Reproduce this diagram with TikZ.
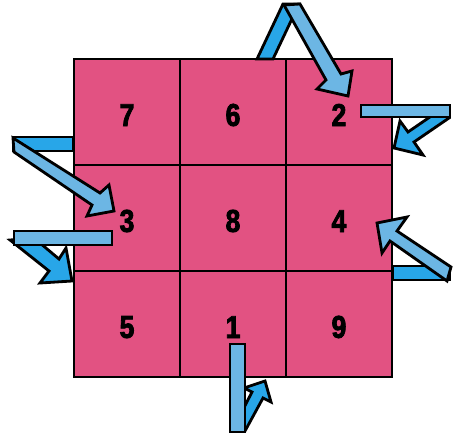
\documentclass[tikz,border=0pt]{standalone}
\usepackage{fontspec}
\newfontfamily\numfont[FakeStretch=0.84, FakeBold=2.5]{Liberation Sans Bold}
\usetikzlibrary{positioning}
\definecolor{squarepink}{RGB}{226,82,130}
\definecolor{ribbonlight}{RGB}{108,182,228}
\definecolor{ribbondark}{RGB}{40,166,232}

\begin{document}
\begin{tikzpicture}[
  x=0.02cm, y=-0.02cm,
  node distance=0pt,
  cell/.style={rectangle, draw=black, line width=1.2pt, fill=squarepink,
               minimum size=2.12cm, inner sep=0pt, outer sep=0pt,
               text height=16pt,
               font=\numfont\fontsize{18}{18}\selectfont},
  front/.style={draw=black, fill=ribbonlight, line width=1.6pt},
  back/.style={draw=black, fill=ribbondark, line width=1.6pt},
]
  \useasboundingbox (0,0) rectangle (455,435);

  \node[cell] (c7) at (127,112) {7};
  \node[cell, right=of c7] (c6) {6};
  \node[cell, right=of c6] (c2) {2};
  \node[cell, below=of c7] (c3) {3};
  \node[cell, right=of c3] (c8) {8};
  \node[cell, right=of c8] (c4) {4};
  \node[cell, below=of c3] (c5) {5};
  \node[cell, right=of c5] (c1) {1};
  \node[cell, right=of c1] (c9) {9};

  % 1 to 2
  \draw[back] (235,425) -- (252,392) -- (244,388) -- (265,381) -- (271,402) -- (263,398) -- (245,431) -- cycle;
  \draw[front] (230,344) rectangle (245,432);
  \draw[back] (257,59) -- (283,4) -- (299,4) -- (273,59) -- cycle;
  \draw[front] (284,5) -- (326,80) -- (317,89) -- (348,96) -- (352,71) -- (341,74) -- (300,4) -- cycle;

  % 2 to 3
  \draw[back] (443,108) -- (408,132) -- (400,121) -- (394,148) -- (423,155) -- (414,142) -- (449,118) -- cycle;
  \draw[front] (361,105) rectangle (450,117);
  \draw[back] (73,137) -- (13,137) -- (13,151) -- (73,151) -- cycle;
  \draw[front] (13,138) -- (100,193) -- (109,185) -- (114,211) -- (87,216) -- (92,205) -- (14,152) -- cycle;

  % 3 to 4
  \draw[back] (10,240) -- (49,271) -- (40,283) -- (72,281) -- (66,248) -- (59,259) -- (34,238) -- cycle;
  \draw[front] (14,231) rectangle (112,245);
  \draw[back] (393,266) rectangle (450,280);
  \draw[front] (397,231) -- (407,217) -- (377,223) -- (382,253) -- (390,241) -- (447,281) -- (451,267) -- cycle;
\end{tikzpicture}
\end{document}
